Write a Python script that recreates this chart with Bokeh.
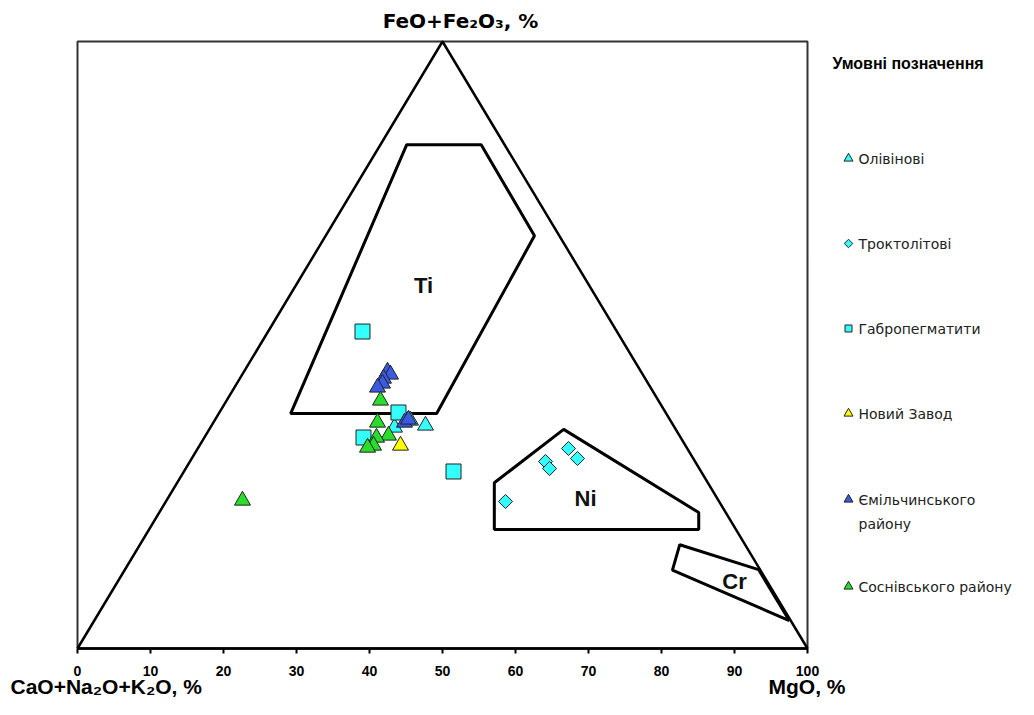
import numpy as np
from bokeh.plotting import figure
from bokeh.models import Range1d, FixedTicker, Label, LinearAxis
from bokeh.embed import file_html
from bokeh.resources import INLINE

# ---- data (x = position on the base scale, fe = FeO+Fe2O3 %) ----
olivine_x = [47.67, 45.62, 43.42]
olivine_fe = [36.74, 37.56, 36.41]

troct_x = [64.11, 64.66, 67.26, 68.49, 58.63]
troct_fe = [30.81, 29.65, 32.95, 31.30, 24.22]

gabbro_x = [39.04, 43.97, 39.18, 51.51]
gabbro_fe = [52.22, 38.88, 34.76, 29.16]

novyi_x = [44.25]
novyi_fe = [33.44]

emil_x = [42.47, 42.88, 41.92, 41.78, 41.10, 44.79, 45.34]
emil_fe = [45.63, 45.14, 44.48, 43.66, 43.00, 37.23, 37.73]

sosn_x = [41.51, 41.10, 42.60, 40.96, 40.55, 39.73, 22.60]
sosn_fe = [40.86, 37.23, 35.09, 34.76, 33.44, 33.11, 24.38]

# diagram frame, triangle and fields
box_x = [0, 0, 100, 100, 0]
box_y = [0, 100, 100, 0, 0]
tri_x = [0, 50, 100, 0]
tri_y = [0, 100, 0, 0]
ti_field_x = [29.2, 45.1, 55.3, 62.6, 49.2]
ti_field_y = [38.7, 83.0, 83.0, 68.0, 38.7]
ni_field_x = [57.1, 66.6, 85.1, 85.1, 57.1]
ni_field_y = [27.3, 36.1, 22.4, 19.6, 19.6]
cr_field_x = [82.5, 93.3, 97.5, 81.5]
cr_field_y = [17.1, 13.0, 4.6, 12.9]

ticks = list(range(0, 101, 10))

legend_labels = ["Олівінові", "Троктолітові", "Габропегматити", "Новий Завод",
                 "Ємільчинського\nрайону", "Соснівського району"]

CYAN = "#33ffff"
BLUE = "#3a5ae0"
GREEN = "#2add2a"
YELLOW = "#ffff00"

W, H = 1018, 699
X0, XS = 77, 7.3      # pixel of x=0, pixels per unit
Y0, YS = 648, 6.07    # pixel of fe=0, pixels per unit

def X(px):
    return (px - X0) / XS

def Y(py):
    return (Y0 - py) / YS

p = figure(width=W, height=H, output_backend="svg", toolbar_location=None,
           x_range=Range1d(X(0), X(W)), y_range=Range1d(Y(H), Y(0)),
           x_axis_location=None, y_axis_location=None,
           min_border=0, min_border_left=0, min_border_right=0,
           min_border_top=0, min_border_bottom=0)
p.grid.visible = False
p.background_fill_color = "white"
p.border_fill_color = "white"
p.outline_line_color = None

ax = LinearAxis(fixed_location=0, bounds=(0, 100))
ax.ticker = FixedTicker(ticks=ticks)
ax.minor_tick_line_color = None
ax.major_tick_in = 0
ax.major_tick_out = 5
ax.major_tick_line_width = 2
ax.axis_line_width = 2
ax.axis_line_color = "black"
ax.major_label_standoff = 12
ax.major_label_text_font = "Liberation Sans"
ax.major_label_text_font_style = "bold"
ax.major_label_text_font_size = "14px"
ax.major_label_text_color = "black"
p.add_layout(ax, "below")

# frame, triangle and fields
p.line(box_x, box_y, line_color="#333333", line_width=2)
p.line(tri_x, tri_y, line_color="black", line_width=2.5)
for fx, fy in [(ti_field_x, ti_field_y), (ni_field_x, ni_field_y), (cr_field_x, cr_field_y)]:
    p.patch(fx, fy, fill_color=None, line_color="black", line_width=3)

for txt, px, py in [("Ti", 423, 285), ("Ni", 585, 498), ("Cr", 734, 581)]:
    p.add_layout(Label(x=X(px), y=Y(py), text=txt, text_font="Liberation Sans",
                       text_font_style="bold", text_font_size="22px",
                       text_align="center", text_baseline="middle", text_color="#111111"))

# data series
p.scatter(olivine_x, olivine_fe, marker="triangle", size=16, fill_color=CYAN, line_color="#222222")
p.scatter(troct_x, troct_fe, marker="square", angle=np.pi / 4, size=10, fill_color=CYAN, line_color="#222222")
p.scatter(gabbro_x, gabbro_fe, marker="square", size=15, fill_color=CYAN, line_color="#222222")
p.scatter(novyi_x, novyi_fe, marker="triangle", size=16, fill_color=YELLOW, line_color="#222222")
p.scatter(emil_x, emil_fe, marker="triangle", size=16, fill_color=BLUE, line_color="#222222")
p.scatter(sosn_x, sosn_fe, marker="triangle", size=16, fill_color=GREEN, line_color="#222222")

# axis titles
p.add_layout(Label(x=X(460), y=Y(20), text="FeO+Fe₂O₃, %", text_font="DejaVu Sans",
                   text_font_style="bold", text_font_size="20px", text_align="center",
                   text_baseline="middle", text_color="black"))
p.add_layout(Label(x=X(10), y=Y(686), text="CaO+Na₂O+K₂O, %", text_font="Liberation Sans",
                   text_font_style="bold", text_font_size="21px", text_align="left",
                   text_baseline="middle", text_color="black"))
p.add_layout(Label(x=X(768), y=Y(686), text="MgO, %", text_font="Liberation Sans",
                   text_font_style="bold", text_font_size="21px", text_align="left",
                   text_baseline="middle", text_color="black"))

# legend (manual)
p.add_layout(Label(x=X(832), y=Y(63), text="Умовні позначення", text_font="Liberation Sans",
                   text_font_style="bold", text_font_size="16px", text_align="left",
                   text_baseline="middle", text_color="black"))
leg_rows_py = [158, 243, 328, 413, 499, 586]
leg_styles = [("triangle", 9, 0, CYAN), ("square", 6, np.pi / 4, CYAN), ("square", 7, 0, CYAN),
              ("triangle", 9, 0, YELLOW), ("triangle", 9, 0, BLUE), ("triangle", 9, 0, GREEN)]
for lab, py, (mk, sz, ang, col) in zip(legend_labels, leg_rows_py, leg_styles):
    p.scatter([X(848)], [Y(py)], marker=mk, size=sz, angle=ang, fill_color=col, line_color="#222222")
    for i, ln in enumerate(lab.split("\n")):
        p.add_layout(Label(x=X(858), y=Y(py + 24 * i), text=ln, text_font="DejaVu Sans",
                           text_font_size="14px", text_align="left", text_baseline="middle",
                           text_color="#222222"))

open("out.html", "w").write(file_html(p, INLINE))
